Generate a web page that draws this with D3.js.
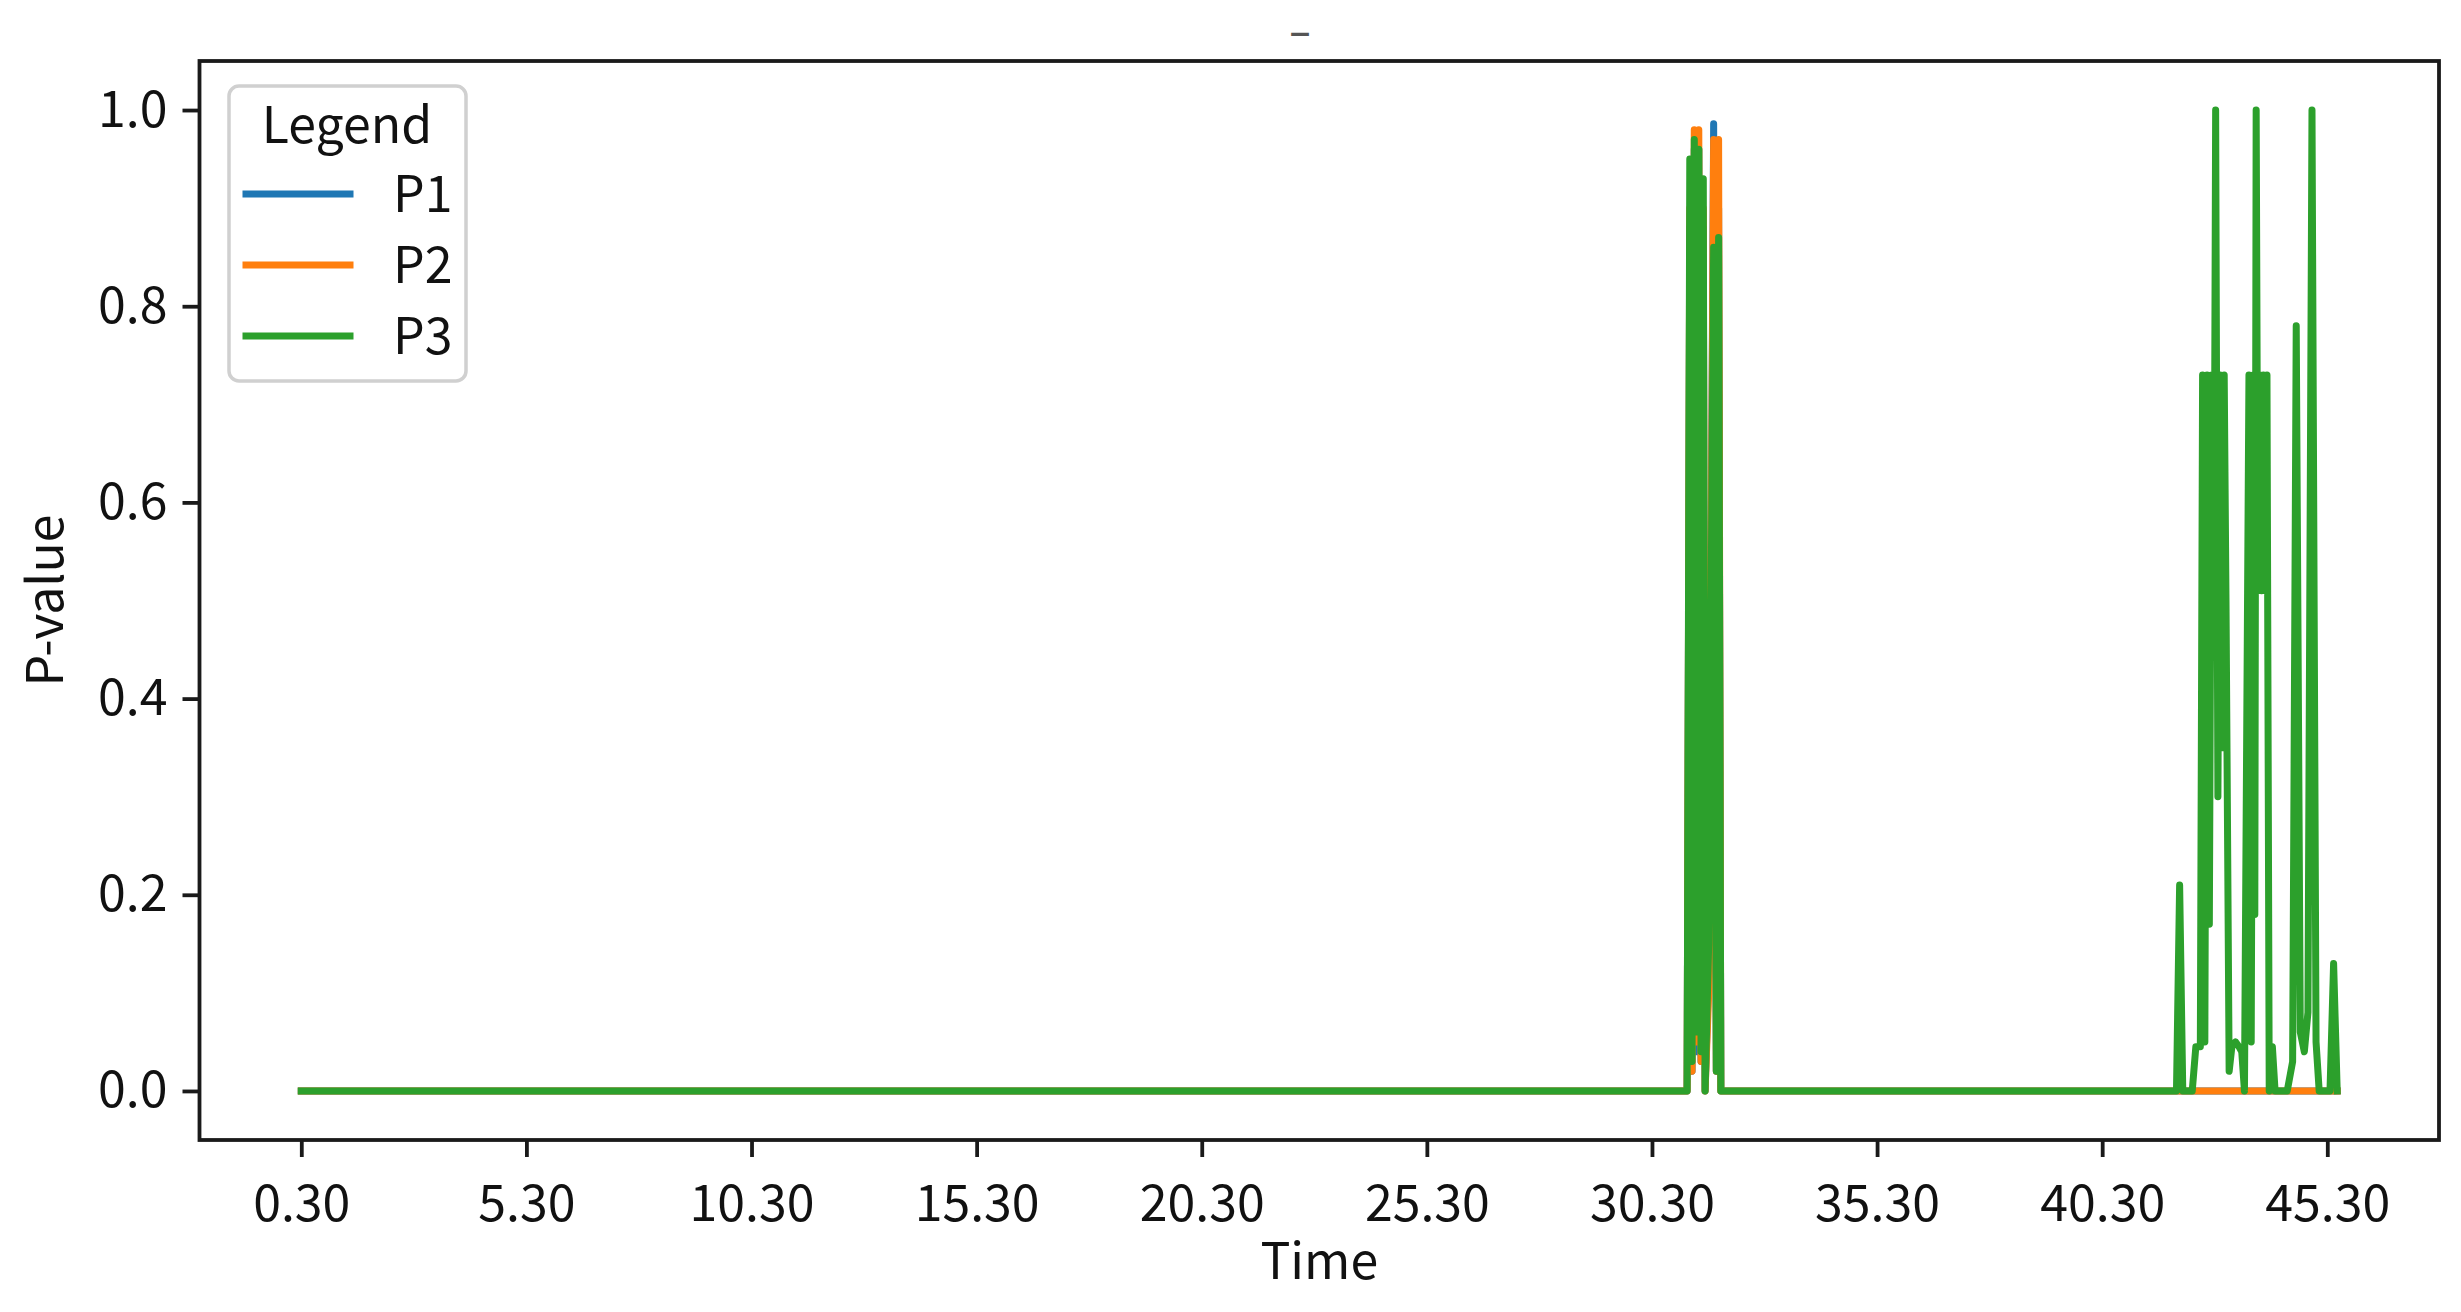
<!DOCTYPE html>
<html>
<head>
<meta charset="utf-8">
<script src="https://cdn.jsdelivr.net/npm/d3@7"></script>
<style>
  html, body { margin: 0; padding: 0; background: #ffffff; }
  svg text { font-family: "Noto Sans CJK SC", "Noto Sans", sans-serif; fill: #111; }
</style>
</head>
<body>
<svg id="chart" width="2461" height="1312"></svg>
<script>
// ---------------- data ----------------
const seriesNames = ["P1", "P2", "P3"];
const seriesColors = ["#1f77b4", "#ff7f0e", "#2ca02c"];
const chartTitle = "–";
const xLabel = "Time";
const yLabel = "P-value";
const legendTitle = "Legend";

const time = [0.30,
  31.08, 31.14, 31.19, 31.24, 31.29, 31.34, 31.39, 31.44, 31.48, 31.56, 31.67, 31.73, 31.78, 31.83,
  41.95, 42.02, 42.09, 42.30, 42.38, 42.48, 42.53, 42.58, 42.63, 42.68,
  42.73, 42.78, 42.82, 42.87, 42.92, 42.97, 43.01, 43.05, 43.12, 43.18,
  43.26, 43.34, 43.40, 43.46, 43.56, 43.61, 43.66, 43.69, 43.72, 43.76,
  43.80, 43.84, 43.88, 43.92, 43.96, 44.01, 44.08, 44.14, 44.41, 44.53,
  44.61, 44.70, 44.79, 44.87, 44.96, 45.05, 45.12, 45.36, 45.44, 45.52];

const p1 = [0,
  0, 0.88, 0.02, 0.96, 0.04, 0.96, 0.03, 0.88, 0, 0.12, 0.986, 0.02, 0.90, 0,
  0, 0, 0, 0, 0, 0, 0, 0, 0, 0,
  0, 0, 0, 0, 0, 0, 0, 0, 0, 0,
  0, 0, 0, 0, 0, 0, 0, 0, 0, 0,
  0, 0, 0, 0, 0, 0, 0, 0, 0, 0,
  0, 0, 0, 0, 0, 0, 0, 0, 0, 0];

const p2 = [0,
  0, 0.90, 0.02, 0.98, 0.05, 0.98, 0.03, 0.90, 0, 0.10, 0.97, 0.02, 0.97, 0,
  0, 0, 0, 0, 0, 0, 0, 0, 0, 0,
  0, 0, 0, 0, 0, 0, 0, 0, 0, 0,
  0, 0, 0, 0, 0, 0, 0, 0, 0, 0,
  0, 0, 0, 0, 0, 0, 0, 0, 0, 0,
  0, 0, 0, 0, 0, 0, 0, 0, 0, 0];

const p3 = [0,
  0, 0.95, 0.03, 0.97, 0.06, 0.96, 0.04, 0.93, 0, 0.15, 0.86, 0.02, 0.87, 0,
  0, 0.21, 0, 0, 0.045, 0.045, 0.73, 0.05, 0.73, 0.17,
  0.73, 0.45, 1.00, 0.30, 0.73, 0.35, 0.73, 0.50, 0.02, 0.045,
  0.05, 0.045, 0.04, 0, 0.73, 0.05, 0.73, 0.18, 1.00, 0.51,
  0.73, 0.51, 0.73, 0.51, 0.73, 0, 0.045, 0, 0, 0.03,
  0.78, 0.06, 0.04, 0.08, 1.00, 0.05, 0, 0, 0.13, 0];

const xTickValues = [0.30, 5.30, 10.30, 15.30, 20.30, 25.30, 30.30, 35.30, 40.30, 45.30];
const xTickLabels = ["0.30", "5.30", "10.30", "15.30", "20.30", "25.30", "30.30", "35.30", "40.30", "45.30"];
const yTickValues = [0.0, 0.2, 0.4, 0.6, 0.8, 1.0];
const yTickLabels = ["0.0", "0.2", "0.4", "0.6", "0.8", "1.0"];

// ---------------- layout ----------------
const plot = { left: 199.5, right: 2439, top: 61, bottom: 1140 };
const fontSize = 50;
const lineWidth = 7;
const axisColor = "#1a1a1a";
const fontStack = '"Noto Sans CJK SC", "Noto Sans", sans-serif';

const svg = d3.select("#chart");

const xExt = d3.extent(time);
const xPad = (xExt[1] - xExt[0]) * 0.05;
const x = d3.scaleLinear().domain([xExt[0] - xPad, xExt[1] + xPad]).range([plot.left, plot.right]);
const y = d3.scaleLinear().domain([-0.05, 1.05]).range([plot.bottom, plot.top]);

// series lines
const seriesValues = [p1, p2, p3];
const line = d3.line().x(d => x(d[0])).y(d => y(d[1]));
const linesG = svg.append("g");
seriesValues.forEach((vals, i) => {
  const pts = time.map((t, j) => [t, vals[j]]);
  linesG.append("path")
    .datum(pts)
    .attr("d", line)
    .attr("fill", "none")
    .attr("stroke", seriesColors[i])
    .attr("stroke-width", lineWidth)
    .attr("stroke-linejoin", "round")
    .attr("stroke-linecap", "square");
});

// axes
const xAxis = d3.axisBottom(x)
  .tickValues(xTickValues)
  .tickFormat((d, i) => xTickLabels[i])
  .tickSize(17)
  .tickPadding(28);
const gx = svg.append("g").attr("transform", `translate(0,${plot.bottom})`).call(xAxis);
gx.select(".domain").remove();
gx.selectAll(".tick line").attr("stroke", axisColor).attr("stroke-width", 3.8);
gx.selectAll(".tick text").attr("font-size", fontSize).attr("fill", "#111")
  .style("font-family", fontStack);

const yAxis = d3.axisLeft(y)
  .tickValues(yTickValues)
  .tickFormat((d, i) => yTickLabels[i])
  .tickSize(17)
  .tickPadding(15);
const gy = svg.append("g").attr("transform", `translate(${plot.left},0)`).call(yAxis);
gy.select(".domain").remove();
gy.selectAll(".tick line").attr("stroke", axisColor).attr("stroke-width", 3.8);
gy.selectAll(".tick text").attr("font-size", fontSize).attr("fill", "#111")
  .style("font-family", fontStack);

// frame
svg.append("rect")
  .attr("x", plot.left).attr("y", plot.top)
  .attr("width", plot.right - plot.left).attr("height", plot.bottom - plot.top)
  .attr("fill", "none").attr("stroke", axisColor).attr("stroke-width", 3.8);

// labels
svg.append("text")
  .attr("x", (plot.left + plot.right) / 2).attr("y", 1279)
  .attr("text-anchor", "middle").attr("font-size", fontSize)
  .text(xLabel);

svg.append("text")
  .attr("transform", `translate(63,${(plot.top + plot.bottom) / 2}) rotate(-90)`)
  .attr("text-anchor", "middle").attr("font-size", fontSize)
  .text(yLabel);

// title (a short dash)
svg.append("text")
  .attr("x", 1300).attr("y", 47)
  .attr("text-anchor", "middle").attr("font-size", 44)
  .style("font-family", '"DejaVu Sans", sans-serif')
  .style("fill", "#555")
  .text(chartTitle);

// legend
const lg = svg.append("g");
lg.append("rect")
  .attr("x", 229).attr("y", 86).attr("width", 237).attr("height", 295)
  .attr("rx", 10).attr("ry", 10)
  .attr("fill", "#ffffff").attr("fill-opacity", 0.8)
  .attr("stroke", "#d0d0d0").attr("stroke-width", 3.5);
lg.append("text")
  .attr("x", 347).attr("y", 143)
  .attr("text-anchor", "middle").attr("font-size", fontSize)
  .text(legendTitle);
const legendRowY = [194, 265, 336];
seriesNames.forEach((name, i) => {
  lg.append("line")
    .attr("x1", 246).attr("x2", 350)
    .attr("y1", legendRowY[i]).attr("y2", legendRowY[i])
    .attr("stroke", seriesColors[i]).attr("stroke-width", lineWidth)
    .attr("stroke-linecap", "square");
  lg.append("text")
    .attr("x", 393).attr("y", legendRowY[i] + 18)
    .attr("font-size", fontSize)
    .text(name);
});
</script>
</body>
</html>
